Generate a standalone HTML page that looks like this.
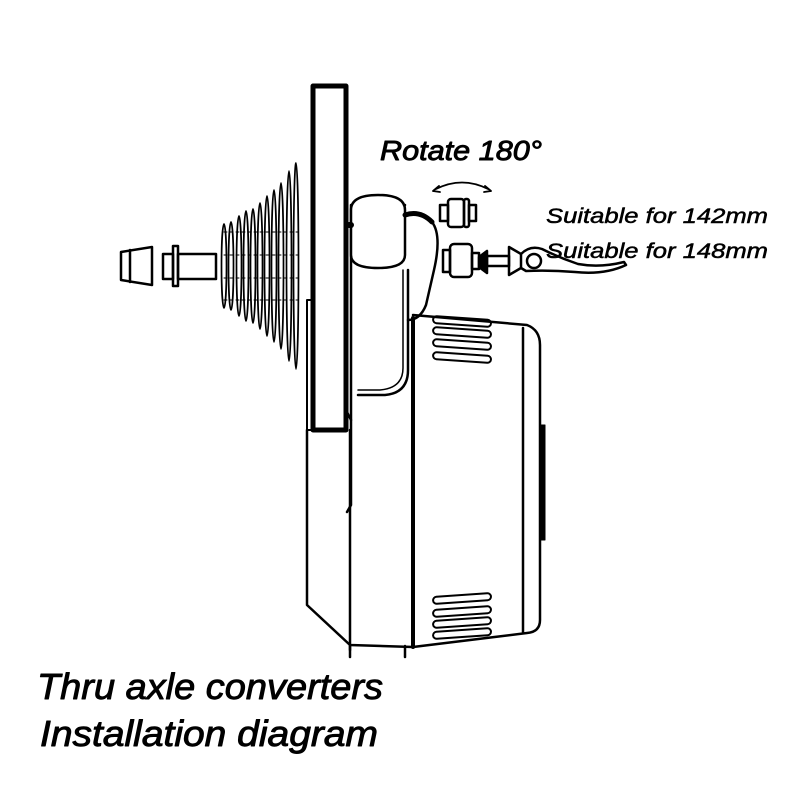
<!DOCTYPE html>
<html><head><style>html,body{margin:0;padding:0;background:#fff}svg{display:block}</style></head>
<body>
<svg width="800" height="800" viewBox="0 0 800 800" xmlns="http://www.w3.org/2000/svg" fill="none" stroke="#000" stroke-linejoin="round" stroke-linecap="round">
<rect width="800" height="800" fill="#fff" stroke="none"/>
<!-- cassette -->
<g stroke-width="1.7">
<ellipse cx="224" cy="266" rx="2.5" ry="42"/>
<ellipse cx="231" cy="266" rx="2.5" ry="44"/>
<ellipse cx="239" cy="266" rx="2.5" ry="50"/>
<ellipse cx="246" cy="266" rx="2.5" ry="55"/>
<ellipse cx="253" cy="266" rx="2.5" ry="57"/>
<ellipse cx="260" cy="266" rx="2.5" ry="63"/>
<ellipse cx="267" cy="266" rx="2.5" ry="70"/>
<ellipse cx="274" cy="266" rx="2.5" ry="76"/>
<ellipse cx="281" cy="266" rx="2.5" ry="83"/>
<ellipse cx="289" cy="266" rx="2.5" ry="95"/>
<ellipse cx="296" cy="266" rx="2.5" ry="103"/>
</g>
<g stroke-width="1" stroke-dasharray="3 3">
<line x1="224" y1="232" x2="298" y2="232"/><line x1="224" y1="300" x2="298" y2="300"/>
<line x1="224" y1="255" x2="298" y2="255"/><line x1="224" y1="278" x2="298" y2="278"/>
</g>
<!-- left converters -->
<g stroke-width="2.5">
<path d="M121 252 L152 247 L152 285 L121 280 Z"/><line x1="130" y1="250" x2="130" y2="282"/>
<rect x="163" y="254" width="10" height="25"/><rect x="173" y="246" width="5" height="40"/><rect x="178" y="254" width="38" height="25"/>
</g>
<!-- wheel/frame -->
<rect x="313" y="86" width="33" height="344" stroke-width="5"/>
<rect x="307" y="300" width="6" height="130" stroke-width="2"/>
<!-- main unit -->
<g stroke-width="2.5">
<path d="M307 430 L307 605 L350 645 L413 647"/>
<line x1="350" y1="430" x2="350" y2="650"/>
<path d="M346 410 L351 420 L351 505 L347 512"/>
<path d="M413 315 L527 325 Q540 330 540 345 L540 620 Q540 632 527 633 L413 647" />
<line x1="413" y1="318" x2="413" y2="647" stroke-width="4"/>
<line x1="523" y1="328" x2="523" y2="632"/>
<rect x="540" y="425" width="5" height="115" fill="#000" stroke-width="1"/>
<line x1="350" y1="646" x2="350" y2="657"/><line x1="405" y1="646" x2="405" y2="657"/>
</g>
<!-- vents -->
<g stroke-width="2">
<rect x="433" y="318" width="58" height="7" rx="3.5" transform="rotate(4 462 322)"/>
<rect x="433" y="329" width="58" height="7" rx="3.5" transform="rotate(4 462 333)"/>
<rect x="433" y="341" width="58" height="7" rx="3.5" transform="rotate(4 462 345)"/>
<rect x="433" y="354" width="58" height="7" rx="3.5" transform="rotate(4 462 358)"/>
<rect x="433" y="595" width="58" height="7" rx="3.5" transform="rotate(-4 462 598)"/>
<rect x="433" y="608" width="58" height="7" rx="3.5" transform="rotate(-4 462 611)"/>
<rect x="433" y="619" width="58" height="7" rx="3.5" transform="rotate(-4 462 622)"/>
<rect x="433" y="630" width="58" height="7" rx="3.5" transform="rotate(-4 462 633)"/>
</g>
<!-- hub and bracket -->
<g stroke-width="2.5">
<path d="M358 395 L385 395 Q408 393 408 370 L408 270"/>
<path d="M358 390 L380 390 Q403 388 403 368 L403 270" stroke-width="1.5"/>
<path d="M351 420 L351 205 L405 205"/>
<path d="M351 210 Q351 195 378 195 Q405 195 405 210 L405 255 Q405 268 378 268 Q351 268 351 255 Z" fill="#fff"/>
<path d="M405 215 Q420 210 432 222 Q442 235 434 270 L426 305 Q420 320 408 320" />
<path d="M405 215 Q420 210 432 222" stroke-width="5"/>
<line x1="349" y1="225" x2="351" y2="225" stroke-width="6"/>
</g>
<!-- rotate arrow -->
<path d="M436 189 Q462 176 488 189" stroke-width="1.8"/>
<path d="M433 191 l6 -5 M433 191 l7 1 M491 191 l-6 -5 M491 191 l-7 1" stroke-width="1.8"/>
<!-- right converters -->
<g stroke-width="2.5">
<rect x="440" y="205" width="8" height="16"/><rect x="448" y="199" width="16" height="28" rx="3"/><rect x="464" y="199" width="5" height="28" rx="2"/><rect x="469" y="205" width="7" height="16"/>
<rect x="443" y="250" width="7" height="22"/><rect x="450" y="244" width="22" height="33" rx="4"/><rect x="472" y="253" width="7" height="16"/>
<path d="M479 257 L487 251 L487 273 L479 267 Z" fill="#000"/>
<rect x="487" y="256" width="22" height="10"/>
<path d="M509 247 L521 254 L521 268 L509 275 Z"/>
<circle cx="534" cy="261" r="7"/>
<path d="M521 254 Q530 245 542 249 Q560 258 578 264 Q600 268 624 262 L626 265 Q605 275 575 272 Q550 270 526 271 L521 268"/>
</g>
<!-- text -->
<g fill="#000" stroke="#000" font-family="Liberation Sans, sans-serif" font-style="italic">
<text x="380" y="160" font-size="28" stroke-width="0.9" textLength="162" lengthAdjust="spacingAndGlyphs">Rotate 180°</text>
<text x="546" y="223" font-size="21" stroke-width="0.5" textLength="222" lengthAdjust="spacingAndGlyphs">Suitable for 142mm</text>
<text x="546" y="258" font-size="21" stroke-width="0.5" textLength="222" lengthAdjust="spacingAndGlyphs">Suitable for 148mm</text>
<text x="37" y="699" font-size="36" stroke-width="0.9" textLength="346" lengthAdjust="spacingAndGlyphs">Thru axle converters</text>
<text x="40" y="746" font-size="36" stroke-width="0.9" textLength="338" lengthAdjust="spacingAndGlyphs">Installation diagram</text>
</g>
</svg>
</body></html>
